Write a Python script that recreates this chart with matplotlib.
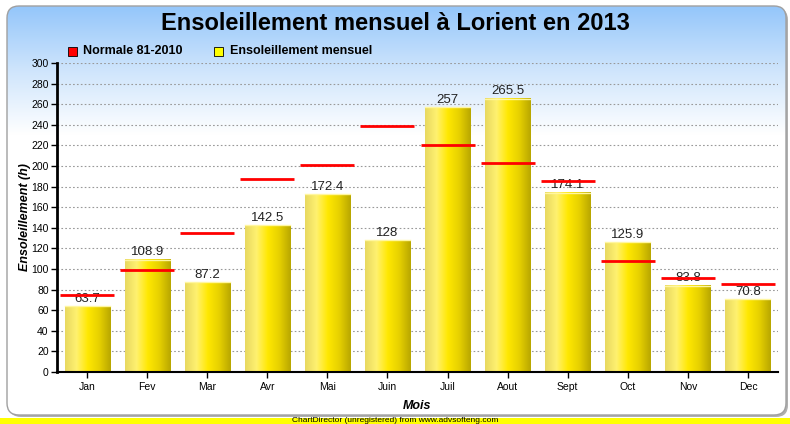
import numpy as np
import matplotlib.pyplot as plt
from matplotlib.patches import FancyBboxPatch, Rectangle
from matplotlib.colors import LinearSegmentedColormap

mois = ['Jan', 'Fev', 'Mar', 'Avr', 'Mai', 'Juin', 'Juil', 'Aout', 'Sept', 'Oct', 'Nov', 'Dec']
ensoleillement = [63.7, 108.9, 87.2, 142.5, 172.4, 128, 257, 265.5, 174.1, 125.9, 83.8, 70.8]
normale = [75, 99, 135, 187, 201, 239, 220, 203, 185, 108, 91, 85]

plt.rcParams['font.family'] = ['Liberation Sans', 'DejaVu Sans']

fig = plt.figure(figsize=(7.9, 4.24), dpi=100)
fig.patch.set_facecolor('white')

# fond : panneau arrondi avec degrade bleu en haut
bg = fig.add_axes([0, 0, 1, 1], zorder=-1)
bg.set_xlim(0, 790)
bg.set_ylim(424, 0)
bg.axis('off')
shadow = FancyBboxPatch((9, 8), 779, 409, boxstyle='round,pad=0,rounding_size=12',
                        fc='#b0b0b0', ec='none', zorder=1)
bg.add_patch(shadow)
panel = FancyBboxPatch((7, 6), 779, 409, boxstyle='round,pad=0,rounding_size=12',
                       fc='white', ec='none', zorder=1)
bg.add_patch(panel)
grad = np.linspace(0, 1, 256).reshape(-1, 1)
blue_cmap = LinearSegmentedColormap.from_list('b', ['#94c6fa', '#cfe5fc', '#ffffff'])
im = bg.imshow(grad, cmap=blue_cmap, extent=(7, 786, 135, 6), aspect='auto', zorder=2)
im.set_clip_path(panel)
bg.add_patch(FancyBboxPatch((7, 6), 779, 409, boxstyle='round,pad=0,rounding_size=12',
                            fc='none', ec='#a0a0a0', lw=1, zorder=3))
bg.set_xlim(0, 790)
bg.set_ylim(424, 0)
bg.add_patch(Rectangle((0, 418), 790, 6, fc='#ffff00', ec='none', zorder=3))
bg.text(395, 424, 'ChartDirector (unregistered) from www.advsofteng.com',
        fontsize=6, ha='center', va='bottom', zorder=4)

ax = fig.add_axes([57 / 790, 52 / 424, 721 / 790, 309 / 424])
ax.patch.set_alpha(0)
x = np.arange(len(mois))
bar_w = 0.75

ax.set_yticks(range(0, 301, 20))
ax.set_xticks(x)
ax.set_xticklabels(mois, fontsize=7.5)
ax.tick_params(axis='y', labelsize=7.5, length=4, width=1, pad=2)
ax.tick_params(axis='x', length=4, width=1, pad=3)
ax.grid(axis='y', color='#999999', linestyle=(0, (1.5, 2)), linewidth=0.8)
ax.set_axisbelow(True)
for s in ['top', 'right']:
    ax.spines[s].set_visible(False)
ax.spines['left'].set_linewidth(2)
ax.spines['bottom'].set_linewidth(1.5)

bar_cmap = LinearSegmentedColormap.from_list(
    'y', ['#e8d860', '#fff170', '#ffe800', '#e6d000', '#b8a600'])
hgrad = np.linspace(0, 1, 256).reshape(1, -1)
bars = ax.bar(x, ensoleillement, width=bar_w, color='none', edgecolor='none', zorder=2)
for b, v in zip(bars, ensoleillement):
    x0 = b.get_x()
    ax.imshow(hgrad, cmap=bar_cmap, extent=(x0, x0 + bar_w, 0, v),
              aspect='auto', zorder=2, clip_path=b)
    ax.plot([x0, x0 + bar_w], [v, v], color='#fff6a0', lw=1, zorder=3)
    ax.text(b.get_x() + bar_w / 2, v + 1.5, f'{v:g}', ha='center', va='bottom',
            fontsize=9.5, color='#222222', zorder=3)
ax.set_xlim(-0.5, 11.5)
ax.set_ylim(0, 300)

ax.hlines(normale, x - 0.45, x + 0.45, colors='#ff0000', lw=2, zorder=4)

ax.set_ylabel('Ensoleillement (h)', fontsize=9, fontweight='bold', style='italic', labelpad=0)
ax.set_xlabel('Mois', fontsize=9, fontweight='bold', style='italic', labelpad=6)

fig.text(0.5, 0.972, 'Ensoleillement mensuel à Lorient en 2013', ha='center', va='top',
         fontsize=17, fontweight='bold')

# legende
fig.patches.append(Rectangle((68 / 790, 1 - 56 / 424), 9 / 790, 9 / 424, transform=fig.transFigure,
                             fc='#ff0000', ec='black', lw=0.6))
fig.text(83 / 790, 1 - 51.5 / 424, 'Normale 81-2010', fontsize=9, fontweight='bold', va='center')
fig.patches.append(Rectangle((214 / 790, 1 - 56 / 424), 9 / 790, 9 / 424, transform=fig.transFigure,
                             fc='#ffff00', ec='black', lw=0.6))
fig.text(230 / 790, 1 - 51.5 / 424, 'Ensoleillement mensuel', fontsize=9, fontweight='bold', va='center')

fig.savefig('out.png', dpi=100)
